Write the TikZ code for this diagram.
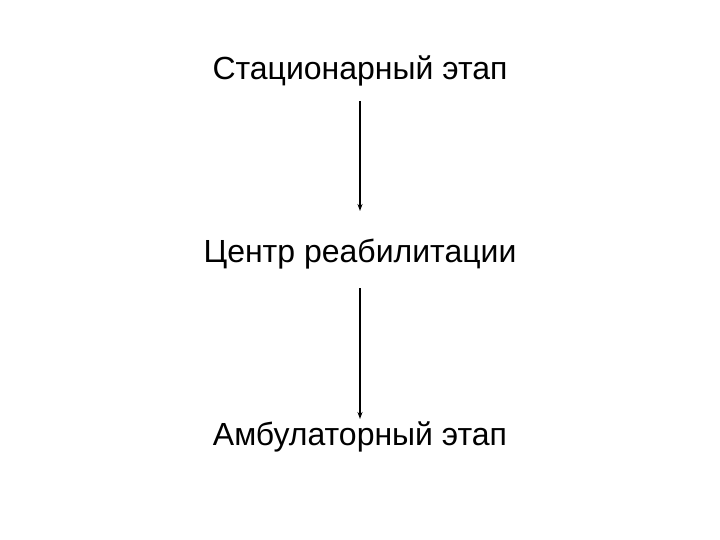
\documentclass[tikz,border=0pt]{standalone}
\usepackage{fontspec}
\setmainfont{Liberation Sans}
\usetikzlibrary{arrows.meta}
\begin{document}
\begin{tikzpicture}[x=1pt,y=-1pt,
  lbl/.style={anchor=base,inner sep=0pt,font=\fontsize{32}{38}\selectfont},
  conn/.style={line width=1.3pt,-{Stealth[length=7pt,width=5pt]}}]
\useasboundingbox (0,0) rectangle (720,540);
\node[lbl] (a) at (360,80) {Стационарный этап};
\node[lbl] (b) at (360,262) {Центр реабилитации};
\node[lbl] (c) at (360,445) {Амбулаторный этап};
\coordinate (a1) at (360,101);
\coordinate (b1) at (360,211);
\coordinate (b2) at (360,288);
\coordinate (c1) at (360,419);
\draw[conn] (a1) -- (b1);
\draw[conn] (b2) -- (c1);
\end{tikzpicture}
\end{document}
